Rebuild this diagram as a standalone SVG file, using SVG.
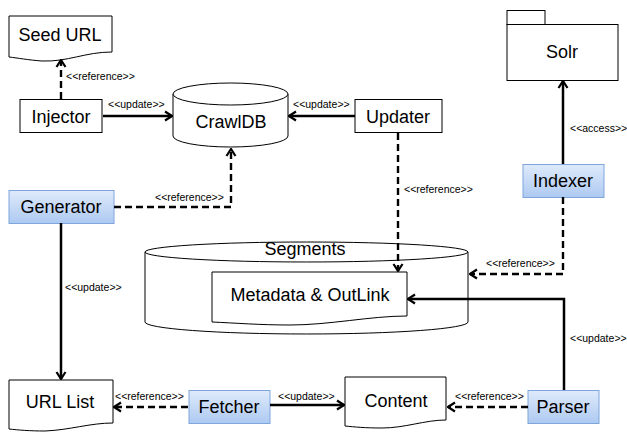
<svg xmlns="http://www.w3.org/2000/svg" width="627" height="432" viewBox="0 0 627 432">
<defs>
<linearGradient id="blue" x1="0" y1="0" x2="0" y2="1">
<stop offset="0" stop-color="#dfeafb"/>
<stop offset="1" stop-color="#adc9f1"/>
</linearGradient>
<marker id="ah" viewBox="0 0 12 12" refX="11" refY="6" markerWidth="12" markerHeight="12" markerUnits="userSpaceOnUse" orient="auto">
<path d="M4,1.5 L11,6 L4,10.5" fill="none" stroke="#000" stroke-width="2.2"/>
</marker>
</defs>
<style>
.shape{fill:#fff;stroke:#000;stroke-width:1}
.blue{fill:url(#blue);stroke:#7ea6dc;stroke-width:1}
.lbl{font-family:"Liberation Sans",Arial,sans-serif;font-size:18px;fill:#000;text-anchor:middle;dominant-baseline:central}
.sm{font-family:"Liberation Sans",Arial,sans-serif;font-size:10.5px;fill:#000;dominant-baseline:central}
.solid{fill:none;stroke:#000;stroke-width:2.5;marker-end:url(#ah)}
.dash{fill:none;stroke:#000;stroke-width:2.4;stroke-dasharray:7,4;marker-end:url(#ah)}
</style>
<rect width="627" height="432" fill="#fff"/>

<g id="seedurl">
<path class="shape" d="M9,16 H112 V52 C85,52 68,62 42,61 C28,60 18,58 9,57 Z"/>
<text class="lbl" x="60" y="35">Seed URL</text>
</g>
<g id="injector">
<rect class="shape" x="20" y="99.5" width="82" height="33"/>
<text class="lbl" x="61" y="117">Injector</text>
</g>
<g id="crawldb">
<path class="shape" d="M173,94 A57.5,11 0 0,1 288,94 V136 A57.5,11 0 0,1 173,136 Z"/>
<path class="shape" d="M173,94 A57.5,11 0 0,0 288,94" fill="none"/>
<text class="lbl" x="231" y="122">CrawlDB</text>
</g>
<g id="updater">
<rect class="shape" x="355" y="99.5" width="87" height="33"/>
<text class="lbl" x="398" y="117">Updater</text>
</g>
<g id="solr">
<rect class="shape" x="507" y="10.5" width="38" height="14"/>
<rect class="shape" x="507" y="24.5" width="111" height="56"/>
<text class="lbl" x="562" y="52">Solr</text>
</g>
<g id="indexer">
<rect class="blue" x="523" y="164.5" width="81" height="33"/>
<text class="lbl" x="563" y="181">Indexer</text>
</g>
<g id="generator">
<rect class="blue" x="9" y="190.5" width="105" height="33"/>
<text class="lbl" x="61" y="207">Generator</text>
</g>
<g id="segments">
<path class="shape" d="M145,252 A161.5,10 0 0,1 468,252 V322 A161.5,12 0 0,1 145,322 Z"/>
<path class="shape" d="M145,252 A161.5,10 0 0,0 468,252" fill="none"/>
<text class="lbl" x="305" y="249">Segments</text>
</g>
<g id="metadata">
<path class="shape" d="M212,272 H407 V316 C370,316 330,325 290,325 C260,325 235,323 212,322 Z"/>
<text class="lbl" x="310" y="295">Metadata &amp; OutLink</text>
</g>
<g id="urllist">
<path class="shape" d="M9,380 H113 V423 C90,423 70,430 45,431 C30,431 18,430 9,429 Z"/>
<text class="lbl" x="60" y="402">URL List</text>
</g>
<g id="fetcher">
<rect class="blue" x="189" y="390.5" width="81" height="33"/>
<text class="lbl" x="229" y="407">Fetcher</text>
</g>
<g id="content">
<path class="shape" d="M345,377 H446 V420 C425,420 405,428 382,428 C365,428 355,427 345,426 Z"/>
<text class="lbl" x="396" y="401">Content</text>
</g>
<g id="parser">
<rect class="blue" x="528" y="390.5" width="71" height="33"/>
<text class="lbl" x="563" y="407">Parser</text>
</g>

<g id="connectors">
<path class="dash" d="M61,99 V60"/>
<path class="solid" d="M103,116 H172"/>
<path class="solid" d="M355,116 H289"/>
<path class="solid" d="M563,164 V81"/>
<path class="dash" d="M114,207 H231 V149"/>
<path class="dash" d="M398,133 V271"/>
<path class="dash" d="M563,197 V274 H470"/>
<path class="solid" d="M61,223 V379"/>
<path class="solid" d="M564,390 V299 H408"/>
<path class="dash" d="M188,407 H114"/>
<path class="solid" d="M270,405 H344"/>
<path class="dash" d="M528,407 H448"/>
<text class="sm" x="66" y="76">&lt;&lt;reference&gt;&gt;</text>
<text class="sm" x="108" y="104">&lt;&lt;update&gt;&gt;</text>
<text class="sm" x="293" y="104">&lt;&lt;update&gt;&gt;</text>
<text class="sm" x="570" y="128">&lt;&lt;access&gt;&gt;</text>
<text class="sm" x="155" y="197">&lt;&lt;reference&gt;&gt;</text>
<text class="sm" x="404" y="189">&lt;&lt;reference&gt;&gt;</text>
<text class="sm" x="486" y="263">&lt;&lt;reference&gt;&gt;</text>
<text class="sm" x="65" y="287">&lt;&lt;update&gt;&gt;</text>
<text class="sm" x="570" y="338">&lt;&lt;update&gt;&gt;</text>
<text class="sm" x="115" y="396">&lt;&lt;reference&gt;&gt;</text>
<text class="sm" x="278" y="396">&lt;&lt;update&gt;&gt;</text>
<text class="sm" x="455" y="396">&lt;&lt;reference&gt;&gt;</text>
</g>
</svg>
